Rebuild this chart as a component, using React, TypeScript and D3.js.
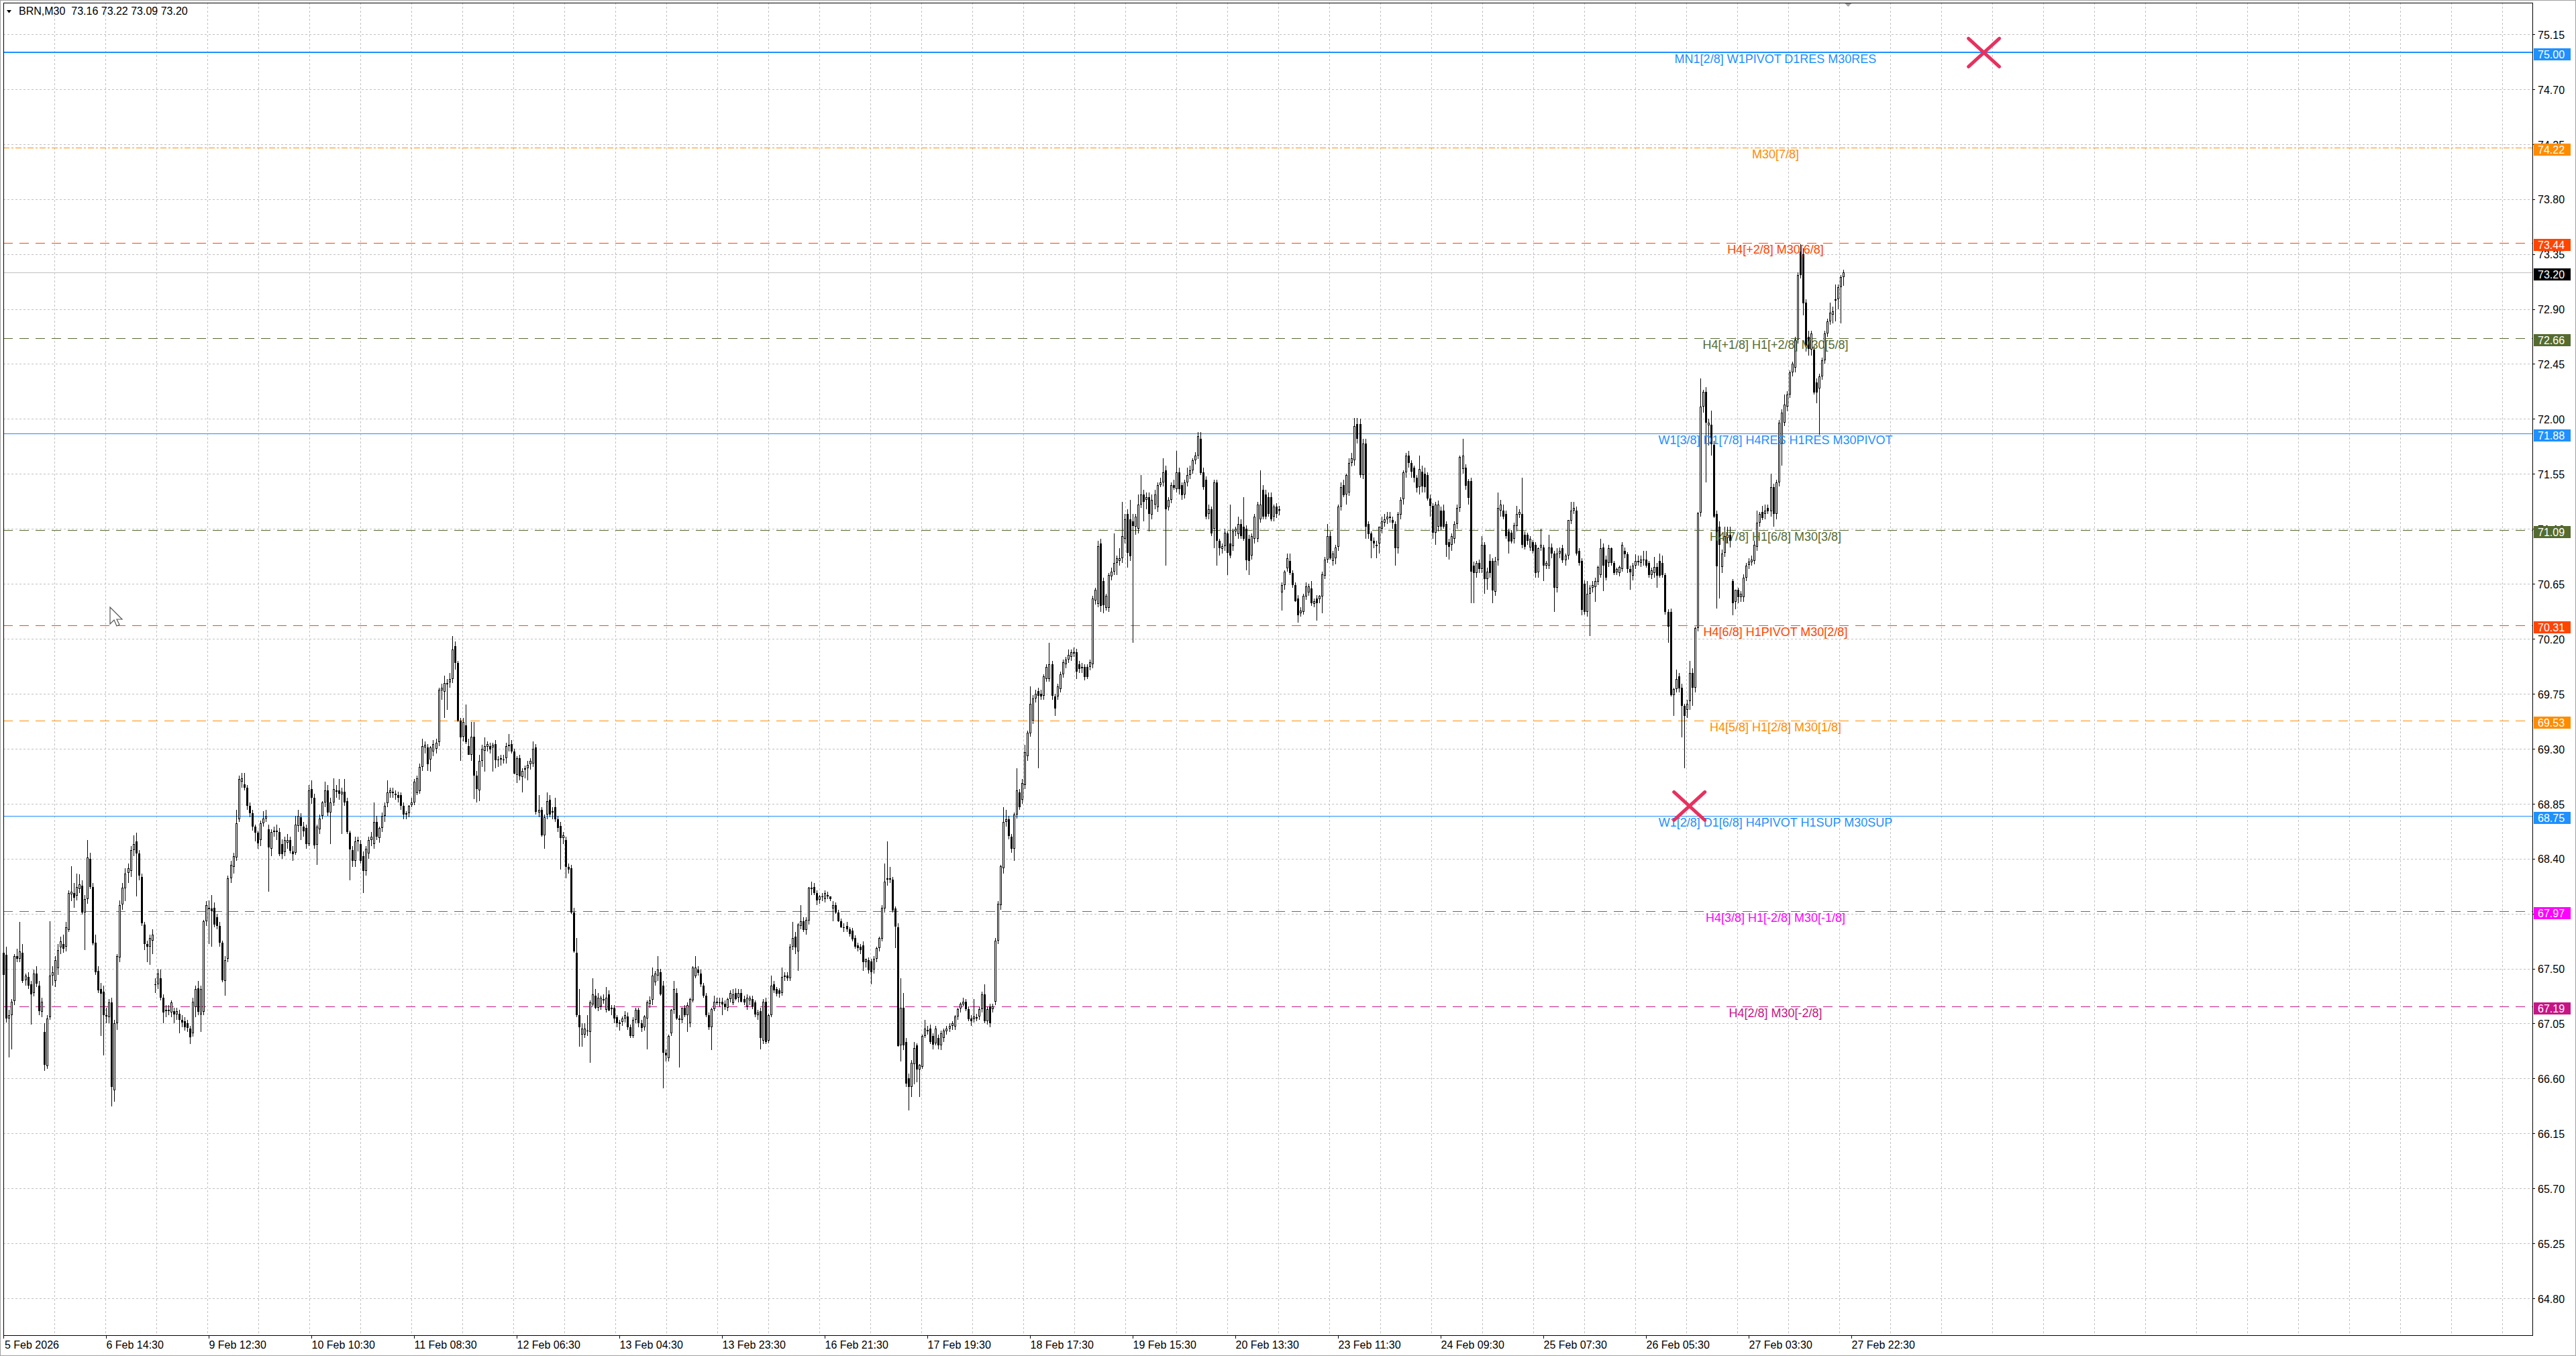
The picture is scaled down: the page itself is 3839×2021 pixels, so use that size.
import React, { useEffect, useRef } from 'react';
import * as d3 from 'd3';

const W = 3839;
const H = 2021;
const PLOT = { left: 5, top: 4, right: 3774, bottom: 1990 };

// M30 bars, [open, high, low, close]
// 5 Feb – 11 Feb
const bars1: number[][] = [
  [67.45,67.72,67.30,67.63],[67.61,67.68,67.06,67.09],[67.09,67.16,66.77,67.12],[67.12,67.25,66.84,67.23],
  [67.23,67.62,67.20,67.60],[67.60,67.66,67.55,67.58],[67.58,67.88,67.55,67.64],[67.63,67.70,67.38,67.40],
  [67.40,67.46,67.36,67.44],[67.43,67.47,67.33,67.36],[67.37,67.40,67.04,67.29],[67.30,67.49,67.27,67.46],
  [67.46,67.52,67.35,67.38],[67.36,67.40,67.12,67.15],[67.15,67.26,67.10,67.23],[66.98,67.05,66.66,66.71],
  [66.70,67.12,66.68,67.09],[67.10,67.89,67.08,67.44],[67.44,67.52,67.36,67.47],[67.40,67.60,67.35,67.57],
  [67.50,67.70,67.45,67.65],[67.67,67.76,67.62,67.72],[67.70,67.78,67.63,67.66],[67.68,67.88,67.64,67.84],
  [67.82,68.14,67.80,68.12],[68.11,68.34,68.05,68.13],[68.12,68.20,68.00,68.08],[68.10,68.28,68.06,68.17],
  [68.15,68.27,68.12,68.19],[68.18,68.22,67.94,67.96],[67.96,68.10,67.65,68.07],[68.07,68.55,68.03,68.41],
  [68.40,68.45,68.15,68.17],[68.17,68.20,67.69,67.71],[67.71,67.78,67.45,67.47],[67.48,67.52,67.30,67.32],
  [67.33,67.38,66.95,67.29],[67.31,67.36,66.79,67.12],[67.12,67.18,67.05,67.11],[67.10,67.25,67.05,67.22],
  [67.22,67.26,66.37,66.53],[66.50,67.08,66.41,67.05],[67.05,67.62,67.00,67.60],[67.59,68.06,67.55,68.02],
  [68.02,68.20,67.98,68.16],[68.16,68.32,68.05,68.28],[68.28,68.36,68.20,68.32],[68.30,68.50,68.25,68.47],
  [68.47,68.59,68.42,68.52],[68.54,68.61,68.09,68.44],[68.44,68.47,68.22,68.26],[68.25,68.28,67.85,67.87],
  [67.86,67.88,67.65,67.70],[67.70,67.73,67.55,67.68],[67.68,67.78,67.53,67.75],[67.73,67.82,67.62,67.78],
  [67.37,67.42,67.30,67.37],[67.37,67.50,67.33,67.46],[67.42,67.49,67.24,67.26],[67.26,67.29,67.05,67.14],
  [67.15,67.20,67.10,67.16],[67.16,67.20,67.12,67.15],[67.14,67.24,67.10,67.22],[67.15,67.18,67.05,67.12],
  [67.12,67.18,67.08,67.15],[67.13,67.16,66.97,67.08],[67.08,67.12,67.02,67.06],[67.07,67.10,66.99,67.02],
  [67.05,67.08,66.98,67.01],[67.01,67.03,66.88,66.94],[66.97,67.26,66.94,67.23],[67.18,67.36,67.10,67.33],
  [67.34,67.40,67.12,67.15],[67.12,67.36,66.98,67.33],[67.15,67.90,67.12,67.89],[67.89,68.05,67.85,68.02],
  [68.00,68.06,67.70,67.99],[67.99,68.10,67.68,67.97],[68.00,68.04,67.84,67.86],[67.92,67.95,67.82,67.85],
  [67.85,67.88,67.68,67.71],[67.71,67.73,67.39,67.40],[67.40,67.60,67.28,67.57],[67.58,68.26,67.55,68.24],
  [68.24,68.38,68.20,68.35],[68.33,68.45,68.28,68.42],[68.41,68.80,68.38,68.69],[68.72,69.08,68.70,69.05],
  [69.03,69.10,68.98,69.06],[69.01,69.10,68.96,68.98],[68.98,69.00,68.80,68.83],[68.83,68.86,68.74,68.77],
  [68.77,68.80,68.63,68.66],[68.66,68.68,68.54,68.61],[68.61,68.63,68.48,68.52],[68.55,68.71,68.50,68.69],
  [68.69,68.79,68.66,68.73],[68.73,68.80,68.70,68.75],[68.64,68.68,68.13,68.49],[68.48,68.64,68.42,68.62],
  [68.62,68.66,68.58,68.63],[68.63,68.68,68.55,68.62],[68.62,68.65,68.42,68.44],[68.52,68.56,68.40,68.44],
  [68.45,68.58,68.42,68.55],[68.53,68.60,68.48,68.55],[68.55,68.58,68.44,68.46],[68.46,68.50,68.38,68.44],
  [68.45,68.75,68.43,68.68],[68.67,68.80,68.62,68.75],[68.74,68.77,68.55,68.67],[68.66,68.70,68.58,68.62],
  [68.65,68.68,68.48,68.52],[68.52,69.00,68.50,68.96],[68.97,69.04,68.85,68.90],[68.90,68.93,68.48,68.51],
  [68.51,68.68,68.35,68.66],[68.64,68.76,68.60,68.73],[68.75,68.87,68.72,68.86],[68.86,69.03,68.82,68.96],
  [68.96,69.00,68.75,68.78],[68.78,68.90,68.52,68.86],[68.86,69.06,68.83,68.97],[68.95,69.00,68.90,68.96],
  [68.96,69.05,68.88,68.93],[68.93,68.98,68.60,68.95],[68.95,69.05,68.83,68.86],[68.87,68.90,68.60,68.62],
  [68.61,68.63,68.22,68.47],[68.47,68.50,68.33,68.38],[68.38,68.58,68.33,68.54],[68.54,68.58,68.46,68.55],
  [68.52,68.55,68.36,68.38],[68.42,68.46,68.12,68.30],[68.30,68.50,68.26,68.48],[68.44,68.58,68.40,68.55],
  [68.55,68.62,68.50,68.58],[68.52,68.86,68.48,68.70],[68.70,68.75,68.55,68.58],[68.57,68.66,68.53,68.65],
  [68.65,68.78,68.62,68.75],[68.75,68.86,68.70,68.83],[68.85,69.04,68.82,68.94],[68.94,68.98,68.90,68.96],
  [68.94,68.98,68.90,68.95],[68.93,68.96,68.88,68.92],[68.92,68.95,68.86,68.90],[68.92,68.94,68.80,68.83],
  [68.83,68.86,68.72,68.76],[68.76,68.79,68.72,68.77],[68.77,68.84,68.74,68.83],[68.84,68.90,68.82,68.86],
  [68.86,69.05,68.84,69.03],[68.94,69.08,68.92,69.06],[68.95,69.18,68.93,69.15],[69.15,69.38,69.12,69.32],
  [69.31,69.36,69.26,69.33],[69.31,69.34,69.12,69.17],[69.21,69.32,69.11,69.31],[69.28,69.37,69.24,69.34],
  [69.30,69.38,69.26,69.35],[69.35,69.80,69.32,69.78],[69.78,69.83,69.70,69.80],[69.77,69.90,69.55,69.84],
  [69.83,69.87,69.62,69.84],[69.84,69.92,69.80,69.87],[69.87,70.22,69.84,70.11],[70.14,70.18,69.95,70.00],
  [70.00,70.02,69.52,69.53],[69.53,69.55,69.20,69.39],[69.40,69.55,69.36,69.52],[69.49,69.66,69.34,69.35],
];

// 11 Feb – 17 Feb
const bars2: number[][] = [
  [69.32,69.38,69.25,69.25],[69.25,69.52,69.20,69.40],[69.40,69.52,68.89,69.08],[69.08,69.12,68.86,68.97],
  [68.96,69.25,68.87,69.20],[69.20,69.33,69.15,69.30],[69.28,69.39,69.11,69.32],[69.32,69.36,69.28,69.34],
  [69.32,69.35,69.26,69.29],[69.31,69.35,69.11,69.33],[69.34,69.37,69.14,69.21],[69.21,69.24,69.15,69.21],
  [69.21,69.25,69.16,69.22],[69.21,69.25,69.18,69.21],[69.22,69.35,69.18,69.32],[69.32,69.42,69.28,69.33],
  [69.34,69.37,69.26,69.28],[69.28,69.30,69.09,69.10],[69.08,69.24,69.02,69.22],[69.22,69.25,69.04,69.07],
  [69.07,69.14,68.94,69.12],[69.13,69.16,69.06,69.14],[69.14,69.20,69.04,69.17],[69.17,69.22,69.13,69.20],
  [69.18,69.36,69.15,69.30],[69.31,69.34,68.76,68.78],[68.78,68.92,68.74,68.80],[68.80,68.82,68.58,68.59],
  [68.59,68.76,68.48,68.74],[68.76,68.94,68.72,68.87],[68.88,68.92,68.74,68.76],[68.78,68.82,68.72,68.79],
  [68.82,68.90,68.70,68.72],[68.72,68.75,68.62,68.65],[68.67,68.70,68.31,68.57],[68.57,68.62,68.52,68.59],
  [68.55,68.58,68.24,68.33],[68.33,68.36,68.28,68.31],[68.32,68.35,67.95,67.96],[67.96,68.00,67.63,67.64],
  [67.63,67.75,67.10,67.12],[67.12,67.33,66.86,67.02],[66.96,67.05,66.86,67.01],[66.96,67.05,66.93,67.01],
  [66.99,67.12,66.95,66.99],[66.98,67.24,66.73,67.22],[67.21,67.42,67.19,67.29],[67.28,67.33,67.17,67.18],
  [67.18,67.30,67.15,67.26],[67.19,67.28,67.16,67.26],[67.25,67.29,67.21,67.24],[67.16,67.35,67.14,67.26],
  [67.29,67.32,67.15,67.16],[67.17,67.20,67.12,67.18],[67.18,67.20,67.05,67.09],[67.10,67.12,67.02,67.05],
  [67.05,67.08,66.99,67.06],[67.06,67.11,67.03,67.09],[67.09,67.15,67.06,67.12],[67.11,67.14,67.00,67.02],
  [67.02,67.04,66.93,66.95],[66.95,67.10,66.93,67.08],[67.08,67.18,67.05,67.16],[67.16,67.18,67.02,67.05],
  [67.05,67.08,66.98,67.01],[67.02,67.12,66.99,67.11],[67.09,67.24,66.84,67.22],[67.21,67.27,67.18,67.24],
  [67.24,67.51,67.20,67.44],[67.39,67.48,67.36,67.46],[67.44,67.60,67.40,67.49],[67.47,67.50,67.28,67.29],
  [67.36,67.40,66.52,66.81],[66.81,66.84,66.74,66.79],[66.77,66.96,66.74,66.95],[66.97,67.17,66.95,67.16],
  [67.16,67.40,67.13,67.33],[67.30,67.34,67.08,67.09],[67.09,67.12,66.69,67.08],[67.08,67.18,67.05,67.18],
  [67.18,67.20,67.10,67.12],[67.12,67.22,66.98,67.20],[67.05,67.26,67.02,67.25],[67.24,67.52,67.22,67.51],
  [67.44,67.60,67.42,67.51],[67.49,67.52,67.44,67.46],[67.46,67.49,67.35,67.37],[67.36,67.38,67.26,67.28],
  [67.28,67.30,67.10,67.12],[67.12,67.14,67.00,67.02],[67.02,67.18,66.83,67.17],[67.17,67.28,67.15,67.23],
  [67.22,67.26,67.20,67.23],[67.22,67.26,67.19,67.22],[67.23,67.26,67.12,67.21],[67.21,67.24,67.16,67.18],
  [67.18,67.26,67.15,67.25],[67.25,67.32,67.22,67.30],[67.22,67.33,67.20,67.29],[67.30,67.34,67.24,67.25],
  [67.26,67.33,67.22,67.30],[67.30,67.33,67.22,67.23],[67.25,67.28,67.20,67.22],[67.19,67.29,67.16,67.26],
  [67.24,67.28,67.20,67.26],[67.25,67.28,67.17,67.19],[67.22,67.24,67.10,67.12],[67.12,67.16,67.08,67.14],
  [67.15,67.18,66.84,66.93],[66.91,67.25,66.88,67.23],[67.23,67.26,66.88,66.90],[66.91,67.13,66.89,67.12],
  [67.12,67.44,67.10,67.36],[67.37,67.40,67.30,67.32],[67.33,67.35,67.27,67.29],[67.32,67.34,67.26,67.29],
  [67.30,67.51,67.28,67.43],[67.43,67.47,67.40,67.44],[67.44,67.47,67.40,67.42],[67.42,67.70,67.40,67.68],
  [67.68,67.88,67.65,67.75],[67.76,67.80,67.62,67.67],[67.64,67.87,67.48,67.86],[67.85,68.02,67.82,67.89],
  [67.89,67.92,67.80,67.82],[67.82,67.92,67.78,67.90],[67.89,68.17,67.86,68.16],[68.16,68.21,68.10,68.15],
  [68.17,68.20,68.10,68.12],[68.12,68.14,68.02,68.06],[68.06,68.10,68.03,68.09],[68.09,68.12,68.05,68.09],
  [68.07,68.14,68.04,68.12],[68.10,68.13,68.07,68.09],[68.09,68.09,68.05,68.07],[67.99,68.05,67.89,68.02],
  [68.02,68.04,67.95,67.96],[67.96,67.98,67.88,67.89],[67.89,67.91,67.83,67.84],[67.84,67.87,67.80,67.84],
  [67.85,67.88,67.80,67.82],[67.82,67.84,67.76,67.78],[67.81,67.83,67.72,67.74],[67.75,67.77,67.66,67.68],
  [67.69,67.71,67.64,67.67],[67.68,67.70,67.62,67.65],[67.69,67.72,67.48,67.55],[67.55,67.58,67.51,67.58],
  [67.57,67.59,67.46,67.49],[67.56,67.58,67.37,67.47],[67.49,67.60,67.46,67.58],[67.58,67.68,67.55,67.67],
  [67.67,67.76,67.64,67.75],[67.75,68.02,67.72,68.00],[67.99,68.36,67.96,68.21],[68.23,68.54,68.18,68.24],
  [68.24,68.33,68.20,68.23],[68.23,68.25,67.96,67.98],[67.99,68.01,67.67,67.84],[67.84,67.87,66.86,66.87],
  [66.87,67.42,66.74,67.18],[67.18,67.30,66.83,66.87],[66.90,66.93,66.53,66.56],[66.60,66.64,66.34,66.53],
  [66.53,66.75,66.45,66.73],[66.72,66.90,66.55,66.85],[66.87,66.89,66.57,66.67],[66.67,66.72,66.45,66.71],
  [66.70,66.96,66.68,66.95],[66.95,67.08,66.93,67.01],[67.00,67.03,66.96,66.99],[67.01,67.04,66.88,66.90],
  [66.95,66.97,66.84,66.88],[66.89,67.03,66.87,67.01],
];

// 17 Feb – 23 Feb
const bars3: number[][] = [
  [66.93,66.96,66.84,66.87],[66.87,66.99,66.83,66.97],[66.93,67.01,66.90,66.99],[66.99,67.03,66.96,67.01],
  [67.01,67.05,66.98,67.03],[67.03,67.07,67.00,67.05],[67.03,67.12,67.00,67.11],[67.11,67.18,67.08,67.17],
  [67.17,67.22,67.14,67.21],[67.21,67.26,67.19,67.23],[67.23,67.25,67.15,67.17],[67.17,67.19,67.07,67.09],
  [67.09,67.12,67.03,67.07],[67.09,67.25,67.06,67.11],[67.10,67.13,67.07,67.09],[67.11,67.19,67.08,67.17],
  [67.17,67.31,67.14,67.29],[67.29,67.37,67.05,67.07],[67.07,67.19,67.04,67.17],[67.19,67.21,67.02,67.05],
  [67.17,67.21,67.14,67.19],[67.23,67.75,67.20,67.73],[67.73,68.05,67.70,68.03],[68.02,68.35,67.98,68.34],
  [68.32,68.82,68.28,68.70],[68.70,68.80,68.66,68.72],[68.72,68.75,68.56,68.58],[68.58,68.60,68.45,68.48],
  [68.48,68.78,68.38,68.76],[68.76,69.14,68.73,68.96],[68.94,68.97,68.80,68.82],[68.88,69.05,68.85,69.02],
  [69.00,69.33,68.97,69.27],[69.24,69.45,69.20,69.43],[69.43,69.81,69.40,69.67],[69.53,69.74,69.50,69.71],
  [69.71,69.78,69.68,69.75],[69.77,69.80,69.14,69.73],[69.75,69.78,69.70,69.73],[69.73,69.91,69.70,69.89],
  [69.87,69.99,69.85,69.97],[69.87,70.17,69.85,69.99],[69.99,70.02,69.70,69.73],[69.73,69.75,69.57,69.63],
  [69.73,69.83,69.70,69.81],[69.79,69.93,69.76,69.91],[69.91,70.03,69.88,70.01],[69.99,70.05,69.96,70.03],
  [70.03,70.11,70.00,70.07],[70.05,70.11,70.02,70.09],[70.09,70.13,70.05,70.08],[70.09,70.12,69.87,69.93],
  [69.99,70.02,69.92,69.95],[69.96,70.00,69.92,69.97],[69.97,69.99,69.86,69.89],[69.97,69.99,69.87,69.89],
  [69.97,70.03,69.94,70.01],[69.99,70.55,69.96,70.53],[70.51,70.62,70.48,70.60],[70.49,71.00,70.46,70.96],
  [70.98,71.02,70.42,70.47],[70.67,70.70,70.41,70.47],[70.45,70.57,70.43,70.55],[70.45,70.74,70.42,70.72],
  [70.71,70.78,70.68,70.75],[70.75,71.06,70.72,70.82],[70.82,70.88,70.72,70.86],[70.84,70.94,70.80,70.86],
  [70.86,71.32,70.82,71.04],[71.02,71.22,70.98,71.18],[71.22,71.26,70.78,70.90],[71.18,71.34,70.84,70.88],
  [71.16,71.22,70.17,71.12],[71.12,71.22,71.05,71.20],[71.10,71.38,71.06,71.30],[71.30,71.54,71.27,71.38],
  [71.38,71.42,71.16,71.32],[71.34,71.40,71.26,71.36],[71.36,71.40,71.08,71.22],[71.22,71.38,71.18,71.34],
  [71.30,71.42,71.26,71.38],[71.28,71.48,71.24,71.46],[71.46,71.52,71.44,71.48],[71.48,71.68,71.45,71.56],
  [71.58,71.62,70.80,71.26],[71.28,71.36,71.25,71.34],[71.34,71.48,71.31,71.46],[71.46,71.50,71.42,71.44],
  [71.42,71.74,71.40,71.56],[71.56,71.60,71.38,71.42],[71.46,71.48,71.34,71.38],[71.38,71.50,71.35,71.48],
  [71.48,71.60,71.45,71.54],[71.54,71.62,71.51,71.58],[71.58,71.68,71.55,71.66],[71.66,71.73,71.63,71.70],
  [71.70,71.89,71.67,71.86],[71.84,71.89,71.54,71.56],[71.56,71.60,71.42,71.44],[71.50,71.53,71.18,71.20],
  [71.22,71.30,71.18,71.26],[71.26,71.28,71.04,71.06],[71.10,71.50,70.94,71.48],[71.48,71.50,70.80,71.00],
  [71.00,71.02,70.88,70.94],[70.94,70.98,70.90,70.96],[70.96,71.10,70.92,71.07],[71.06,71.08,70.72,70.90],
  [70.98,71.30,70.86,70.88],[70.96,71.10,70.92,71.08],[71.08,71.12,71.04,71.10],[71.06,71.20,71.02,71.14],
  [71.14,71.18,71.02,71.04],[71.12,71.36,71.00,71.02],[71.10,71.13,70.76,70.84],[71.02,71.05,70.72,70.84],
  [70.88,71.06,70.85,71.04],[71.02,71.22,70.98,71.20],[71.02,71.32,70.99,71.30],[71.18,71.58,71.15,71.30],
  [71.42,71.46,71.18,71.20],[71.38,71.42,71.18,71.20],[71.36,71.40,71.20,71.22],[71.36,71.40,71.16,71.18],
  [71.20,71.30,71.16,71.28],[71.28,71.31,71.19,71.22],[71.25,71.29,71.21,71.26],
  [70.58,70.66,70.43,70.64],[70.64,70.76,70.60,70.75],[70.78,70.90,70.75,70.86],[70.84,70.90,70.72,70.74],
  [70.74,70.76,70.62,70.64],[70.64,70.66,70.50,70.51],[70.53,70.56,70.33,70.39],[70.41,70.46,70.38,70.43],
  [70.42,70.57,70.40,70.55],[70.55,70.66,70.52,70.63],[70.58,70.65,70.55,70.63],[70.61,70.67,70.47,70.49],
  [70.49,70.53,70.46,70.51],[70.53,70.56,70.35,70.49],[70.52,70.56,70.49,70.55],[70.55,70.75,70.41,70.73],
  [70.72,70.87,70.69,70.85],[70.85,71.14,70.82,71.04],[71.04,71.08,70.85,70.86],[70.84,70.92,70.80,70.90],
  [70.86,70.97,70.81,70.95],[70.95,71.30,70.92,71.28],[71.28,71.48,71.25,71.44],[71.46,71.50,71.36,71.38],
  [71.38,71.55,71.30,71.54],[71.40,71.68,71.37,71.64],[71.64,71.72,71.61,71.68],[71.66,72.01,71.62,71.94],
  [71.96,72.01,71.80,71.84],[71.96,72.00,71.52,71.54],[71.54,71.84,71.51,71.80],[71.80,71.84,71.02,71.12],
  [71.14,71.16,71.02,71.06],[71.06,71.08,70.86,71.00],[71.00,71.03,70.94,70.98],[70.97,71.00,70.86,70.96],
  [70.98,71.12,70.90,71.12],[71.10,71.20,71.06,71.16],[71.15,71.22,71.12,71.18],[71.18,71.24,71.14,71.20],
  [71.20,71.24,71.15,71.19],[71.17,71.20,71.10,71.15],[71.14,71.16,70.80,70.94],[70.94,71.24,70.90,71.22],
  [71.22,71.36,71.18,71.34],[71.34,71.58,71.30,71.56],[71.56,71.72,71.52,71.70],
];

// 23 Feb – 27 Feb
const bars4: number[][] = [
  [71.70,71.74,71.60,71.64],[71.64,71.66,71.52,71.57],[71.60,71.62,71.48,71.52],[71.52,71.54,71.40,71.44],
  [71.44,71.70,71.38,71.59],[71.57,71.62,71.40,71.45],[71.55,71.60,71.40,71.44],[71.54,71.56,71.33,71.35],
  [71.35,71.38,71.20,71.29],[71.29,71.31,71.02,71.07],[71.07,71.32,70.97,71.30],[71.12,71.33,71.08,71.30],
  [71.25,71.28,71.09,71.12],[71.25,71.30,71.10,71.12],[71.14,71.16,70.87,70.97],[70.99,71.02,70.85,70.95],
  [70.97,71.06,70.92,71.04],[71.02,71.16,70.98,71.14],[71.14,71.30,71.10,71.27],[71.27,71.70,71.24,71.69],
  [71.59,71.84,71.55,71.70],[71.60,71.63,71.42,71.45],[71.49,71.51,71.30,71.35],[71.49,71.52,70.49,70.75],
  [70.80,70.83,70.49,70.74],[70.74,70.84,70.70,70.82],[70.82,70.85,70.74,70.77],[70.77,71.04,70.74,70.97],
  [70.97,70.99,70.57,70.69],[70.69,70.78,70.60,70.75],[70.84,70.89,70.70,70.74],[70.84,70.86,70.49,70.60],
  [70.59,70.87,70.55,70.84],[70.84,71.40,70.80,71.27],[71.25,71.34,71.20,71.30],[71.25,71.30,71.18,71.20],
  [71.22,71.25,71.02,71.04],[71.08,71.10,70.90,71.00],[71.07,71.09,70.98,71.00],[71.02,71.15,70.98,71.13],
  [71.12,71.29,71.08,71.22],[71.22,71.26,71.19,71.24],[71.22,71.52,70.94,70.97],[71.05,71.08,70.93,70.95],
  [71.05,71.07,70.97,71.00],[70.95,71.04,70.92,71.02],[70.99,71.01,70.90,70.92],[70.97,70.99,70.70,70.74],
  [70.74,70.95,70.70,70.94],[70.95,71.10,70.92,70.97],[70.95,70.97,70.67,70.80],[70.80,70.84,70.77,70.82],
  [70.80,71.05,70.77,70.95],[70.95,70.98,70.86,70.90],[70.90,70.92,70.42,70.62],[70.62,70.94,70.58,70.90],
  [70.90,70.95,70.86,70.92],[70.94,70.97,70.82,70.84],[70.84,70.90,70.80,70.88],[70.88,71.17,70.85,71.17],
  [71.17,71.32,71.14,71.25],[71.25,71.32,71.22,71.27],[71.25,71.28,70.88,70.90],[70.92,70.94,70.80,70.82],
  [70.84,70.86,70.39,70.44],[70.65,70.68,70.40,70.42],[70.42,70.67,70.38,70.57],[70.57,70.64,70.22,70.62],
  [70.62,70.67,70.58,70.64],[70.62,70.70,70.50,70.67],[70.67,70.80,70.64,70.79],[70.72,71.02,70.70,70.94],
  [70.95,70.98,70.59,70.80],[70.85,70.88,70.68,70.70],[70.82,70.97,70.79,70.94],[70.94,70.95,70.80,70.82],
  [70.82,70.84,70.72,70.74],[70.74,70.78,70.72,70.77],[70.74,70.80,70.71,70.79],[70.77,70.99,70.75,70.97],
  [70.92,70.95,70.86,70.89],[70.89,70.91,70.74,70.77],[70.77,70.80,70.60,70.74],[70.72,70.82,70.68,70.80],
  [70.80,70.89,70.77,70.84],[70.84,70.88,70.80,70.83],[70.82,70.88,70.79,70.85],[70.85,70.92,70.80,70.85],
  [70.85,70.92,70.78,70.80],[70.82,70.84,70.70,70.72],[70.72,70.78,70.69,70.76],[70.74,70.87,70.70,70.79],
  [70.79,70.82,70.62,70.72],[70.84,70.90,70.70,70.72],[70.82,70.88,70.70,70.72],[70.72,70.74,70.40,70.42],
  [70.42,70.44,70.17,70.30],[70.42,70.45,69.73,69.74],[69.74,69.80,69.57,69.79],[69.79,69.95,69.76,69.87],
  [69.89,69.92,69.76,69.79],[69.80,69.83,69.39,69.65],[69.65,69.67,69.14,69.57],[69.62,69.70,69.55,69.67],
  [69.69,70.02,69.62,69.92],[69.92,69.96,69.65,69.80],[69.80,70.30,69.76,70.29],[70.29,71.24,70.26,71.23],
  [71.23,72.33,71.20,72.10],[72.10,72.24,72.05,72.22],[72.22,72.26,71.48,71.97],[71.95,72.00,71.78,71.97],
  [71.95,72.07,71.70,71.79],[71.79,71.82,71.19,71.20],[71.22,71.25,70.45,70.79],[71.12,71.16,70.53,70.97],
  [70.79,70.93,70.74,70.90],[70.90,71.12,70.87,71.04],[71.02,71.12,70.98,71.05],[71.05,71.12,70.95,71.00],
  [70.67,70.69,70.39,70.49],[70.50,70.60,70.44,70.60],[70.60,70.62,70.49,70.54],[70.54,70.59,70.50,70.57],
  [70.54,70.73,70.50,70.70],[70.70,70.82,70.67,70.80],[70.80,70.86,70.77,70.83],[70.83,70.88,70.80,70.85],
  [70.84,71.00,70.81,70.97],[70.95,71.25,70.92,71.15],[71.15,71.24,71.12,71.22],[71.24,71.29,71.17,71.19],
  [71.22,71.30,71.18,71.25],[71.27,71.30,71.22,71.24],[71.24,71.55,71.20,71.44],[71.44,71.47,71.12,71.22],
  [71.22,71.50,71.18,71.48],[71.48,71.99,71.45,71.97],[71.80,72.08,71.62,72.05],[71.97,72.20,71.94,72.12],
  [72.10,72.23,72.06,72.20],[72.20,72.40,72.17,72.38],[72.38,72.47,72.35,72.45],[72.42,72.67,72.38,72.65],
  [72.65,73.20,72.62,73.18],[73.37,73.43,73.15,73.18],[73.35,73.40,72.85,72.95],[72.95,72.98,72.55,72.60],
  [72.67,72.72,72.52,72.57],[72.57,72.72,72.52,72.70],[72.57,72.60,72.20,72.22],[72.30,72.33,72.13,72.22],
  [72.25,72.37,71.87,72.35],[72.35,72.50,72.32,72.48],[72.48,72.72,72.45,72.70],[72.70,72.82,72.67,72.80],
  [72.80,72.95,72.77,72.87],[72.85,72.92,72.78,72.88],[72.97,73.10,72.80,72.98],[72.98,73.10,72.90,73.08],
  [73.08,73.18,72.78,73.16],[73.16,73.22,73.09,73.20],
];

const timeLabels = [
  '5 Feb 2026', '6 Feb 14:30', '9 Feb 12:30', '10 Feb 10:30', '11 Feb 08:30', '12 Feb 06:30',
  '13 Feb 04:30', '13 Feb 23:30', '16 Feb 21:30', '17 Feb 19:30', '18 Feb 17:30', '19 Feb 15:30',
  '20 Feb 13:30', '23 Feb 11:30', '24 Feb 09:30', '25 Feb 07:30', '26 Feb 05:30', '27 Feb 03:30',
  '27 Feb 22:30',
];
const BARS_PER_LABEL = 38;

const priceTicks = [
  75.15, 74.70, 74.25, 73.80, 73.35, 72.90, 72.45, 72.00, 71.55, 71.10, 70.65, 70.20,
  69.75, 69.30, 68.85, 68.40, 67.95, 67.50, 67.05, 66.60, 66.15, 65.70, 65.25, 64.80,
];

// Murrey math levels
const levelPrices = [75.00, 74.22, 73.44, 72.66, 71.88, 71.09, 70.31, 69.53, 68.75, 67.97, 67.19];
const levelNames = [
  'MN1[2/8] W1PIVOT D1RES M30RES',
  'M30[7/8]',
  'H4[+2/8] M30[6/8]',
  'H4[+1/8] H1[+2/8] M30[5/8]',
  'W1[3/8] D1[7/8] H4RES H1RES M30PIVOT',
  'H4[7/8] H1[6/8] M30[3/8]',
  'H4[6/8] H1PIVOT M30[2/8]',
  'H4[5/8] H1[2/8] M30[1/8]',
  'W1[2/8] D1[6/8] H4PIVOT H1SUP M30SUP',
  'H4[3/8] H1[-2/8] M30[-1/8]',
  'H4[2/8] M30[-2/8]',
];
const levelColors = ['#1E90FF', '#FF8C00', '#FF4500', '#556B2F', '#1E90FF', '#556B2F', '#FF4500', '#FF8C00', '#1E90FF', '#FF00FF', '#C71585'];
const levelDash = ['', '9,3,3,3', '14,10', '14,10', '', '14,10', '14,10', '14,10', '', '14,10', '14,10'];
const levelWidth = [2, 1, 1, 1, 1, 1, 1, 1, 1, 1, 1];

const crossMarks = [
  { bar: 733, price: 75.0 },
  { bar: 624, price: 68.83 },
];

const FONT = '"Liberation Sans", Arial, sans-serif';

const App: React.FC = () => {
  const svgRef = useRef<SVGSVGElement>(null);

  useEffect(() => {
    if (!svgRef.current) return;
    const svg = d3.select(svgRef.current);
    svg.selectAll('*').remove();

    const candles = [...bars1, ...bars2, ...bars3, ...bars4];
    const lastBar = candles[candles.length - 1];
    const labelBars = timeLabels.map((_, i) => i * BARS_PER_LABEL);

    const x = d3.scaleLinear().domain([0, 684]).range([5.3, 2759.3]);
    const y = d3.scaleLinear().domain([64.8, 75.15]).range([1935, 51]);

    svg.append('rect').attr('width', W).attr('height', H).attr('fill', '#ffffff');

    // grid (fixed pixel spacing, like the terminal)
    const grid = svg.append('g').attr('stroke', '#C0C0C0').attr('stroke-width', 1)
      .attr('stroke-dasharray', '3,3').attr('shape-rendering', 'crispEdges');
    for (let gx = PLOT.left + 76; gx < PLOT.right - 2; gx += 76) {
      grid.append('line').attr('x1', gx + 0.5).attr('x2', gx + 0.5).attr('y1', PLOT.top).attr('y2', PLOT.bottom);
    }
    priceTicks.forEach(t => {
      const gy = Math.round(y(t)) + 0.5;
      grid.append('line').attr('x1', PLOT.left).attr('x2', PLOT.right).attr('y1', gy).attr('y2', gy);
    });

    // level lines
    levelPrices.forEach((p, i) => {
      const ly = Math.round(y(p)) + (levelWidth[i] === 2 ? 0 : 0.5);
      svg.append('line')
        .attr('x1', PLOT.left).attr('x2', PLOT.right).attr('y1', ly).attr('y2', ly)
        .attr('stroke', levelColors[i]).attr('stroke-width', levelWidth[i])
        .attr('stroke-dasharray', levelDash[i] || null)
        .attr('shape-rendering', 'crispEdges');
    });

    // bid line
    const bidY = Math.round(y(lastBar[3])) + 0.5;
    svg.append('line').attr('x1', PLOT.left).attr('x2', PLOT.right).attr('y1', bidY).attr('y2', bidY)
      .attr('stroke', '#C0C0C0').attr('stroke-width', 1).attr('shape-rendering', 'crispEdges');

    // candles
    const cg = svg.append('g').attr('shape-rendering', 'crispEdges');
    candles.forEach((d, i) => {
      const [o, h, l, c] = d;
      const r = Math.round(x(i));
      cg.append('line')
        .attr('x1', r + 0.5).attr('x2', r + 0.5)
        .attr('y1', y(h)).attr('y2', y(l))
        .attr('stroke', '#000').attr('stroke-width', 1);
      const top = y(Math.max(o, c));
      const bot = y(Math.min(o, c));
      if (bot - top < 1.5) {
        cg.append('line').attr('x1', r - 1).attr('x2', r + 2)
          .attr('y1', Math.round(top) + 0.5).attr('y2', Math.round(top) + 0.5)
          .attr('stroke', '#000').attr('stroke-width', 1);
      } else if (c > o) {
        cg.append('rect').attr('x', r - 0.5).attr('y', Math.round(top) + 0.5)
          .attr('width', 2).attr('height', Math.max(1, Math.round(bot - top) - 1))
          .attr('fill', '#fff').attr('stroke', '#000').attr('stroke-width', 1);
      } else {
        cg.append('rect').attr('x', r - 1).attr('y', Math.round(top))
          .attr('width', 3).attr('height', Math.max(1, Math.round(bot - top)))
          .attr('fill', '#000');
      }
    });

    // level labels
    levelPrices.forEach((p, i) => {
      svg.append('text')
        .attr('x', 2646).attr('y', y(p) + 16)
        .attr('text-anchor', 'middle')
        .style('font-family', FONT).style('font-size', '18px')
        .attr('fill', levelColors[i])
        .text(levelNames[i]);
    });

    // cross marks
    crossMarks.forEach(m => {
      const cx = x(m.bar);
      const cy = y(m.price);
      const g = svg.append('g').attr('stroke', '#E8305E').attr('stroke-width', 5).attr('stroke-linecap', 'round');
      g.append('line').attr('x1', cx - 23).attr('y1', cy - 21).attr('x2', cx + 23).attr('y2', cy + 21);
      g.append('line').attr('x1', cx - 23).attr('y1', cy + 21).attr('x2', cx + 23).attr('y2', cy - 21);
    });

    // chart shift marker
    const sx = x(labelBars[labelBars.length - 1]) - 5;
    svg.append('path')
      .attr('d', `M${sx - 6},${PLOT.top} L${sx + 6},${PLOT.top} L${sx},${PLOT.top + 6} Z`)
      .attr('fill', '#A0A0A0');

    // mouse cursor
    const mx = 164, my = 905;
    const cur = [[0, 0], [0, 25], [6, 19], [10, 28], [14, 26], [10, 18], [18, 18]];
    svg.append('path')
      .attr('d', 'M' + cur.map(p => `${mx + p[0]},${my + p[1]}`).join(' L') + ' Z')
      .attr('fill', '#fff').attr('stroke', '#555').attr('stroke-width', 1.2);

    // frames
    svg.append('rect').attr('x', 0.5).attr('y', 0.5).attr('width', W - 1).attr('height', H - 1)
      .attr('fill', 'none').attr('stroke', '#A0A0A0');
    svg.append('rect')
      .attr('x', PLOT.left + 0.5).attr('y', PLOT.top + 0.5)
      .attr('width', PLOT.right - PLOT.left).attr('height', PLOT.bottom - PLOT.top)
      .attr('fill', 'none').attr('stroke', '#000').attr('stroke-width', 1)
      .attr('shape-rendering', 'crispEdges');

    // price axis
    const ax = svg.append('g').style('font-family', FONT).style('font-size', '16px');
    priceTicks.forEach(t => {
      const ty = Math.round(y(t)) + 0.5;
      ax.append('line').attr('x1', PLOT.right).attr('x2', PLOT.right + 4).attr('y1', ty).attr('y2', ty)
        .attr('stroke', '#000').attr('shape-rendering', 'crispEdges');
      ax.append('text').attr('x', PLOT.right + 8).attr('y', y(t) + 1).attr('dy', '0.36em')
        .attr('fill', '#000').text(t.toFixed(2));
    });
    const boxes = [
      ...levelPrices.map((p, i) => ({ p, color: levelColors[i] })),
      { p: lastBar[3], color: '#000000' },
    ];
    boxes.forEach(b => {
      const by = y(b.p);
      ax.append('rect').attr('x', PLOT.right + 2).attr('y', Math.round(by) - 6)
        .attr('width', 55).attr('height', 18).attr('fill', b.color);
      ax.append('text').attr('x', PLOT.right + 8).attr('y', by + 3).attr('dy', '0.36em')
        .attr('fill', '#fff').text(b.p.toFixed(2));
    });

    // time axis
    labelBars.forEach((b, i) => {
      const tx = Math.round(x(b)) + 0.5;
      ax.append('line').attr('x1', tx).attr('x2', tx).attr('y1', PLOT.bottom).attr('y2', PLOT.bottom + 5)
        .attr('stroke', '#000').attr('shape-rendering', 'crispEdges');
      ax.append('text').attr('x', Math.max(PLOT.left + 2, tx)).attr('y', PLOT.bottom + 20)
        .attr('fill', '#000').text(timeLabels[i]);
    });

    // header
    svg.append('path').attr('d', 'M10,15 L17,15 L13.5,19.5 Z').attr('fill', '#000');
    svg.append('text').attr('x', 28).attr('y', 22)
      .style('font-family', FONT).style('font-size', '16px').style('white-space', 'pre')
      .attr('fill', '#000')
      .text(`BRN,M30  ${lastBar.map(v => v.toFixed(2)).join(' ')}`);
  }, []);

  return (
    <svg
      ref={svgRef}
      width={W}
      height={H}
      style={{ position: 'fixed', left: 0, top: 0, display: 'block' }}
    />
  );
};

export default App;
